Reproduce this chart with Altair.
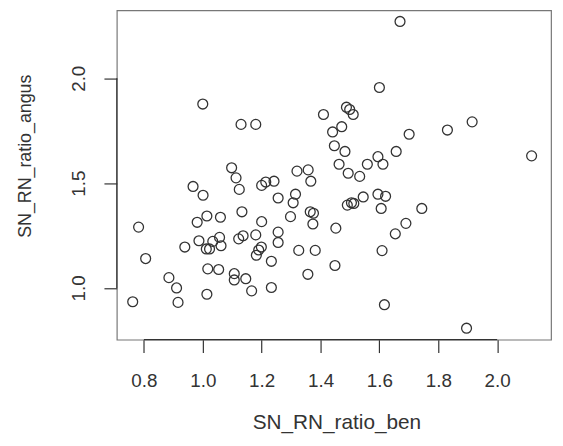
import altair as alt
import pandas as pd

# Scatter data (SN_RN_ratio_ben, SN_RN_ratio_angus)
ben = [1.00, 1.13, 1.18, 1.67, 1.60, 1.41, 1.488, 1.499, 1.511, 1.472,
       1.441, 1.701, 1.831, 1.915, 1.447, 1.483, 1.657, 1.595, 1.463, 1.559,
       1.612, 2.117, 1.098, 1.113, 1.124, 0.967, 1.001, 1.320, 1.358, 1.367,
       1.200, 1.214, 1.242, 1.256, 1.315, 1.307, 1.133, 1.014, 1.060, 0.981,
       1.200, 1.298, 1.365, 1.376, 1.374, 0.782, 0.806, 0.762, 0.885, 0.911,
       0.916, 0.939, 0.987, 1.012, 1.023, 1.034, 1.057, 1.062, 1.017, 1.054,
       1.014, 1.107, 1.107, 1.146, 1.166, 1.122, 1.137, 1.180, 1.256, 1.256,
       1.199, 1.190, 1.182, 1.233, 1.233, 1.326, 1.382, 1.357, 1.494, 1.533,
       1.545, 1.595, 1.621, 1.606, 1.744, 1.491, 1.505, 1.513, 1.452, 1.690,
       1.654, 1.609, 1.449, 1.617, 1.896]
angus = [1.877, 1.780, 1.780, 2.271, 1.956, 1.827, 1.862, 1.851, 1.827, 1.769,
         1.744, 1.733, 1.753, 1.792, 1.678, 1.651, 1.651, 1.626, 1.590, 1.590,
         1.590, 1.630, 1.573, 1.525, 1.470, 1.484, 1.442, 1.557, 1.563, 1.509,
         1.489, 1.505, 1.509, 1.429, 1.447, 1.406, 1.363, 1.343, 1.337, 1.313,
         1.316, 1.340, 1.363, 1.356, 1.305, 1.290, 1.140, 0.934, 1.049, 1.000,
         0.931, 1.195, 1.225, 1.186, 1.186, 1.222, 1.241, 1.201, 1.091, 1.088,
         0.970, 1.068, 1.038, 1.044, 0.986, 1.234, 1.249, 1.253, 1.266, 1.217,
         1.195, 1.181, 1.156, 1.127, 1.002, 1.179, 1.179, 1.065, 1.547, 1.532,
         1.434, 1.447, 1.437, 1.379, 1.379, 1.395, 1.406, 1.403, 1.285, 1.308,
         1.258, 1.178, 1.107, 0.920, 0.808]

x_ticks = [0.8, 1.0, 1.2, 1.4, 1.6, 1.8, 2.0]
y_ticks = [1.0, 1.5, 2.0]
x_domain = [0.708, 2.183]
y_domain = [0.753, 2.324]

df = pd.DataFrame({"SN_RN_ratio_ben": ben, "SN_RN_ratio_angus": angus})

FONT = "Liberation Sans"
INK = "#333333"
W, H = 439, 333

xscale = alt.Scale(domain=x_domain, nice=False, zero=False)
yscale = alt.Scale(domain=y_domain, nice=False, zero=False)

x_axis = alt.Axis(values=x_ticks, format=".1f", grid=False, domain=False,
                  tickSize=13, tickColor=INK, tickWidth=1.2,
                  labelFont=FONT, labelFontSize=19, labelColor=INK,
                  labelBaseline="alphabetic", labelPadding=34,
                  labelFlush=False, labelOverlap=False,
                  title="SN_RN_ratio_ben", titleFont=FONT, titleFontSize=21,
                  titleFontWeight="normal", titleColor=INK,
                  titleBaseline="alphabetic", titleAlign="center",
                  titleX=222, titleY=90)
y_axis = alt.Axis(values=y_ticks, format=".1f", grid=False, domain=False,
                  tickSize=13, tickColor=INK, tickWidth=1.2,
                  labelFont=FONT, labelFontSize=19, labelColor=INK,
                  labelAngle=270, labelAlign="center",
                  labelBaseline="alphabetic", labelPadding=20,
                  labelFlush=False, labelOverlap=False,
                  title="SN_RN_ratio_angus", titleFont=FONT, titleFontSize=18,
                  titleFontWeight="normal", titleColor=INK,
                  titleAngle=270, titleAlign="center",
                  titleBaseline="alphabetic", titleX=-87, titleY=147)

points = alt.Chart(df).mark_point(
    shape="circle", filled=False, size=100, color=INK, strokeWidth=1.3, opacity=1
).encode(
    x=alt.X("SN_RN_ratio_ben:Q", scale=xscale, axis=x_axis),
    y=alt.Y("SN_RN_ratio_angus:Q", scale=yscale, axis=y_axis),
)

xline = alt.Chart(pd.DataFrame({"SN_RN_ratio_ben": [x_ticks[0]], "end": [x_ticks[-1]]})).mark_rule(
    color=INK, strokeWidth=1.2
).encode(x=alt.X("SN_RN_ratio_ben:Q", scale=xscale, axis=x_axis), x2="end:Q", y=alt.value(H))

yline = alt.Chart(pd.DataFrame({"SN_RN_ratio_angus": [y_ticks[0]], "end": [y_ticks[-1]]})).mark_rule(
    color=INK, strokeWidth=1.2
).encode(y=alt.Y("SN_RN_ratio_angus:Q", scale=yscale, axis=y_axis), y2="end:Q", x=alt.value(0))

chart = alt.layer(points, xline, yline).properties(
    width=W, height=H,
    autosize=alt.AutoSizeParams(type="none"),
    padding={"left": 110, "top": 0, "right": 4, "bottom": 96},
    background="white",
).configure_view(stroke="#777777", strokeWidth=1.2)

chart.save("out.html", embed_options={"renderer": "svg", "actions": False})
